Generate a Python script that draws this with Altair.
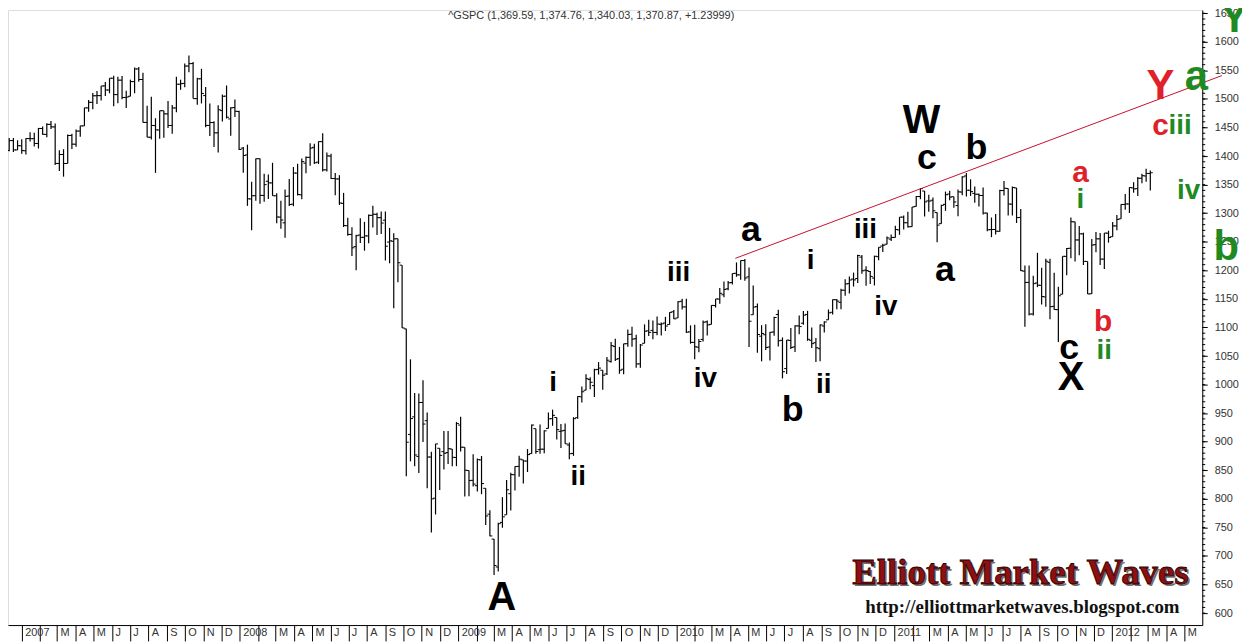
import altair as alt
import pandas as pd

# ---------------- weekly OHLC of ^GSPC (weeks starting Monday) ----------------
first_week = "2006-12-11"

opens = [
    # 2006 Dec
    1409.8, 1427.1, 1410.8,
    # 2007
    1418.0, 1409.3, 1430.7, 1430.5, 1422.0, 1448.3, 1438.0, 1455.5, 1451.0, 1387.1,
    1402.8, 1387.0, 1436.1, 1420.8, 1443.8, 1452.8, 1484.4, 1494.1, 1505.6, 1505.8,
    1522.8, 1515.6, 1536.3, 1507.6, 1532.9, 1502.6, 1504.7, 1530.4, 1552.5, 1534.1,
    1458.9, 1433.0, 1453.4, 1445.6, 1479.4, 1473.9, 1453.5, 1484.2, 1525.8, 1527.3,
    1557.6, 1562.0, 1500.6, 1535.3, 1505.9, 1453.7, 1458.7, 1440.7, 1479.6, 1505.0,
    1465.0, 1485.0,
    # 2008
    1478.1, 1414.0, 1402.0, 1325.0, 1330.7, 1395.4, 1331.1, 1355.9, 1353.1, 1330.5,
    1293.2, 1283.2, 1330.0, 1315.9, 1370.2, 1332.2, 1387.7, 1397.8, 1415.3, 1389.4,
    1425.3, 1376.0, 1400.0, 1360.8, 1360.0, 1317.2, 1278.1, 1262.9, 1241.6, 1261.8,
    1257.8, 1260.3, 1296.3, 1298.1, 1292.2, 1287.8, 1249.5, 1250.9, 1255.4, 1209.1,
    1097.6, 912.8, 943.5, 874.3, 968.7, 936.8, 873.2, 801.2, 888.6, 882.7,
    881.1, 887.2,
    # 2009
    872.4, 929.2, 890.4, 849.6, 832.5, 823.1, 868.2, 818.5, 773.3, 729.6,
    680.8, 758.8, 772.0, 809.1, 842.3, 856.9, 868.3, 866.2, 879.2, 922.9,
    886.1, 887.0, 923.3, 940.4, 942.5, 918.1, 919.9, 894.3, 879.6, 942.1,
    978.6, 990.2, 1008.9, 998.2, 1026.6, 1025.2, 1018.7, 1040.2, 1066.6, 1045.4,
    1026.9, 1071.6, 1088.2, 1080.4, 1036.2, 1072.3, 1094.1, 1094.9, 1091.1, 1105.5,
    1107.8, 1105.3, 1127.5,
    # 2010
    1116.6, 1145.9, 1136.0, 1092.4, 1073.9, 1065.5, 1079.1, 1110.0, 1105.4, 1138.4,
    1149.7, 1157.3, 1167.7, 1178.7, 1194.9, 1192.1, 1217.1, 1188.6, 1122.3, 1136.5,
    1084.8, 1087.3, 1065.8, 1092.1, 1122.8, 1077.5, 1028.1, 1077.2, 1066.0, 1102.9,
    1107.5, 1122.8, 1077.5, 1073.4, 1062.9, 1102.6, 1113.4, 1126.6, 1148.6, 1144.0,
    1165.3, 1176.8, 1184.7, 1185.7, 1223.2, 1200.4, 1198.1, 1186.6, 1223.9, 1242.5,
    1245.8, 1254.7,
    # 2011
    1257.6, 1270.8, 1293.2, 1283.3, 1276.5, 1311.9, 1329.2, 1338.9, 1321.6, 1322.7,
    1301.2, 1281.7, 1315.5, 1333.6, 1329.0, 1313.4, 1337.1, 1365.2, 1340.2, 1334.8,
    1333.1, 1331.1, 1300.3, 1271.3, 1271.5, 1268.4, 1339.6, 1343.3, 1315.9, 1344.3,
    1292.6, 1198.5, 1178.9, 1123.6, 1177.9, 1173.8, 1153.5, 1214.0, 1136.9, 1131.2,
    1158.2, 1224.5, 1238.7, 1284.9, 1253.2, 1263.9, 1215.6, 1159.0, 1245.0, 1255.1,
    1219.7, 1265.0,
    # 2012
    1258.9, 1277.8, 1290.2, 1315.3, 1316.2, 1344.3, 1343.1, 1361.2, 1365.2, 1369.6,
]

highs = [
    1431.6, 1431.8, 1427.7,
    1429.4, 1431.2, 1441.6, 1440.7, 1449.3, 1452.0, 1457.6, 1461.6, 1456.9, 1410.4,
    1412.0, 1437.7, 1438.9, 1446.6, 1453.1, 1484.7, 1498.0, 1510.3, 1513.8, 1522.8,
    1529.9, 1536.3, 1540.6, 1538.7, 1540.0, 1514.3, 1533.8, 1555.1, 1555.9, 1545.9,
    1488.3, 1503.9, 1466.3, 1479.5, 1479.4, 1496.4, 1489.6, 1538.7, 1533.7, 1561.9,
    1576.1, 1564.7, 1537.0, 1552.8, 1520.8, 1492.1, 1460.9, 1488.9, 1508.0, 1523.6,
    1485.4, 1498.9,
    1479.4, 1416.0, 1420.0, 1355.2, 1396.0, 1396.0, 1369.0, 1367.9, 1388.3, 1335.1,
    1321.7, 1341.5, 1359.7, 1380.9, 1386.7, 1395.9, 1399.1, 1422.7, 1421.6, 1425.6,
    1440.2, 1406.3, 1404.1, 1370.6, 1366.6, 1335.6, 1292.2, 1275.4, 1262.3, 1291.2,
    1284.9, 1297.9, 1313.2, 1300.8, 1303.0, 1303.0, 1274.4, 1265.1, 1255.5, 1209.1,
    1097.6, 1044.3, 985.4, 984.4, 1007.5, 951.4, 882.3, 896.3, 888.6, 918.6,
    918.9, 887.4,
    934.7, 943.9, 890.4, 849.6, 877.9, 870.8, 875.0, 818.5, 780.1, 729.6,
    758.3, 803.0, 832.9, 845.6, 856.6, 875.6, 868.3, 887.2, 930.2, 922.9,
    930.2, 920.0, 951.0, 956.2, 942.5, 931.0, 931.9, 898.7, 943.0, 979.8,
    996.7, 1018.0, 1013.1, 1027.6, 1039.5, 1025.2, 1048.2, 1074.8, 1080.2, 1066.0,
    1071.5, 1096.6, 1101.4, 1087.4, 1071.3, 1105.4, 1113.7, 1112.4, 1119.1, 1108.6,
    1118.7, 1126.5, 1130.4,
    1145.9, 1150.4, 1150.5, 1103.7, 1104.7, 1080.0, 1112.4, 1112.3, 1139.0, 1150.0,
    1169.3, 1180.7, 1181.4, 1194.7, 1213.9, 1217.3, 1219.8, 1205.1, 1173.6, 1141.9,
    1104.0, 1105.7, 1092.2, 1119.0, 1131.2, 1082.6, 1078.2, 1099.1, 1103.7, 1120.9,
    1128.8, 1129.2, 1100.1, 1081.6, 1105.1, 1110.9, 1131.5, 1148.9, 1149.9, 1167.7,
    1184.4, 1189.4, 1196.1, 1227.1, 1226.8, 1207.4, 1198.9, 1225.6, 1240.4, 1246.7,
    1259.4, 1262.6,
    1278.2, 1293.2, 1296.1, 1302.7, 1311.0, 1330.3, 1344.1, 1338.9, 1332.3, 1327.7,
    1301.2, 1314.8, 1337.9, 1339.5, 1329.0, 1341.5, 1364.6, 1370.6, 1359.4, 1346.8,
    1334.6, 1345.2, 1300.7, 1292.5, 1298.6, 1341.0, 1356.5, 1343.3, 1347.0, 1344.3,
    1307.4, 1208.5, 1208.5, 1190.7, 1230.7, 1204.4, 1220.4, 1220.4, 1195.9, 1171.4,
    1224.6, 1239.0, 1292.7, 1284.9, 1277.6, 1266.0, 1215.6, 1255.0, 1267.1, 1265.4,
    1265.4, 1269.4,
    1284.6, 1296.8, 1315.5, 1333.5, 1345.3, 1354.3, 1363.4, 1368.9, 1378.0, 1374.8,
]

lows = [
    1408.6, 1407.0, 1410.5,
    1403.9, 1403.0, 1425.4, 1416.8, 1413.3, 1437.4, 1433.0, 1447.5, 1384.2, 1373.8,
    1364.0, 1386.9, 1412.6, 1416.4, 1433.9, 1452.8, 1477.8, 1482.2, 1491.4, 1497.1,
    1505.2, 1510.0, 1487.4, 1492.7, 1499.7, 1484.2, 1504.7, 1510.0, 1530.0, 1458.6,
    1433.0, 1429.0, 1370.6, 1430.5, 1432.0, 1449.1, 1439.3, 1476.6, 1516.0, 1520.5,
    1546.7, 1500.6, 1490.0, 1492.2, 1450.3, 1435.2, 1416.0, 1406.1, 1460.7, 1465.8,
    1435.7, 1468.6,
    1410.6, 1370.7, 1312.9, 1270.1, 1322.0, 1316.8, 1320.3, 1324.8, 1330.6, 1282.4,
    1272.7, 1257.0, 1312.8, 1312.3, 1331.0, 1324.4, 1369.9, 1383.1, 1386.0, 1386.2,
    1373.1, 1373.1, 1359.9, 1331.3, 1314.5, 1275.8, 1260.7, 1225.3, 1200.4, 1248.0,
    1234.4, 1247.4, 1274.9, 1261.9, 1263.8, 1217.2, 1212.4, 1133.5, 1179.0, 1099.0,
    839.8, 865.8, 857.0, 845.3, 899.7, 818.7, 741.0, 772.7, 815.7, 851.4,
    861.0, 857.1,
    857.3, 883.0, 804.3, 804.5, 821.7, 812.8, 808.1, 754.3, 734.5, 666.8,
    672.9, 749.5, 772.0, 779.8, 814.5, 838.7, 826.8, 847.1, 879.2, 878.9,
    878.9, 880.0, 923.3, 927.9, 903.8, 888.9, 896.4, 869.3, 875.3, 940.2,
    968.7, 990.2, 991.9, 978.5, 1017.6, 991.0, 1017.0, 1038.5, 1041.2, 1019.0,
    1018.0, 1066.1, 1066.2, 1029.4, 1029.4, 1072.3, 1085.3, 1079.3, 1086.2, 1085.9,
    1093.9, 1105.3, 1114.8,
    1116.6, 1131.4, 1090.2, 1071.6, 1044.5, 1056.5, 1075.5, 1086.0, 1105.4, 1134.9,
    1141.7, 1152.9, 1165.0, 1175.1, 1188.8, 1183.7, 1181.6, 1065.8, 1122.3, 1055.9,
    1040.8, 1060.5, 1042.2, 1085.7, 1066.8, 1010.9, 1018.4, 1062.4, 1056.9, 1088.0,
    1105.0, 1076.6, 1063.9, 1039.7, 1040.9, 1091.2, 1113.4, 1122.8, 1131.9, 1131.9,
    1155.7, 1159.7, 1171.7, 1177.7, 1194.1, 1173.0, 1176.0, 1173.6, 1217.8, 1232.0,
    1245.2, 1251.5,
    1257.6, 1262.2, 1271.3, 1275.1, 1276.5, 1311.7, 1324.6, 1294.3, 1302.6, 1291.0,
    1249.0, 1281.7, 1304.2, 1322.9, 1309.6, 1294.7, 1331.5, 1329.2, 1330.3, 1318.5,
    1311.8, 1297.9, 1268.4, 1258.1, 1262.7, 1267.5, 1330.9, 1295.9, 1295.9, 1282.9,
    1199.0, 1101.5, 1121.1, 1121.1, 1170.6, 1140.1, 1136.1, 1114.2, 1131.1, 1074.8,
    1158.2, 1191.5, 1221.1, 1215.4, 1226.6, 1209.4, 1158.7, 1158.7, 1231.5, 1209.5,
    1202.4, 1248.6,
    1258.9, 1270.0, 1290.2, 1306.1, 1300.5, 1335.9, 1330.0, 1352.3, 1354.9, 1340.0,
]

closes = [
    1427.1, 1410.8, 1418.3,
    1409.7, 1430.7, 1430.5, 1422.2, 1448.4, 1438.1, 1455.5, 1451.2, 1387.2, 1402.8,
    1387.0, 1436.1, 1420.9, 1443.8, 1452.9, 1484.4, 1494.1, 1505.6, 1505.9, 1522.8,
    1515.7, 1536.3, 1507.7, 1532.9, 1502.6, 1503.4, 1530.4, 1552.5, 1534.1, 1459.0,
    1433.1, 1453.6, 1445.9, 1479.4, 1474.0, 1453.6, 1484.3, 1525.8, 1526.8, 1557.6,
    1561.8, 1500.6, 1535.3, 1509.7, 1453.7, 1458.7, 1440.7, 1481.1, 1504.7, 1468.0,
    1484.5, 1478.5,
    1411.6, 1401.0, 1325.2, 1330.6, 1395.4, 1331.3, 1350.0, 1353.1, 1330.6, 1293.4,
    1288.1, 1329.5, 1315.2, 1370.4, 1332.8, 1390.3, 1397.8, 1413.9, 1388.3, 1425.4,
    1375.9, 1400.4, 1360.7, 1360.0, 1317.9, 1278.4, 1262.9, 1239.5, 1260.7, 1257.8,
    1260.3, 1296.3, 1298.2, 1292.2, 1282.8, 1242.3, 1251.7, 1255.1, 1213.3, 1099.2,
    899.2, 940.6, 876.8, 968.8, 931.0, 873.3, 800.0, 896.2, 876.1, 879.7,
    887.9, 872.8,
    931.8, 890.4, 850.1, 832.0, 825.9, 868.6, 826.8, 770.1, 735.1, 683.4,
    756.6, 768.5, 815.9, 842.5, 856.6, 869.6, 866.2, 877.5, 929.2, 882.9,
    887.0, 919.1, 940.1, 946.2, 921.2, 918.9, 896.4, 879.1, 940.4, 979.3,
    987.5, 1010.5, 1004.1, 1026.1, 1028.9, 1016.4, 1042.7, 1068.3, 1044.4, 1025.2,
    1071.5, 1087.7, 1079.6, 1036.2, 1069.3, 1093.5, 1091.4, 1091.5, 1106.0, 1106.4,
    1102.5, 1126.5, 1115.1,
    1145.0, 1136.0, 1091.8, 1073.9, 1066.2, 1075.5, 1109.2, 1104.5, 1138.7, 1150.0,
    1159.9, 1166.6, 1178.1, 1194.4, 1192.1, 1217.3, 1186.7, 1110.9, 1135.7, 1087.7,
    1089.4, 1064.9, 1091.6, 1117.5, 1076.8, 1022.6, 1078.0, 1064.9, 1102.7, 1101.6,
    1121.6, 1079.3, 1071.7, 1064.6, 1104.5, 1109.6, 1125.6, 1148.7, 1146.2, 1165.2,
    1176.2, 1183.1, 1183.3, 1225.9, 1199.2, 1199.7, 1189.4, 1224.7, 1240.4, 1243.9,
    1256.8, 1257.6,
    1271.5, 1293.2, 1283.4, 1276.3, 1310.9, 1329.2, 1343.0, 1319.9, 1321.2, 1304.3,
    1279.2, 1313.8, 1332.4, 1328.2, 1319.7, 1337.4, 1363.6, 1340.2, 1337.8, 1333.3,
    1331.1, 1300.2, 1271.0, 1271.5, 1268.5, 1339.7, 1343.8, 1316.1, 1345.0, 1292.3,
    1199.4, 1178.8, 1123.5, 1176.8, 1174.0, 1154.2, 1216.0, 1136.4, 1131.4, 1155.5,
    1224.6, 1238.3, 1285.1, 1253.2, 1263.9, 1215.7, 1158.7, 1244.3, 1255.2, 1219.7,
    1265.3, 1257.6,
    1277.8, 1289.1, 1315.4, 1316.3, 1344.9, 1342.6, 1361.2, 1365.7, 1369.6, 1370.9,
]

# ---------------- Elliott wave labels ----------------
wave_text = ["A", "i", "ii", "iii", "iv", "a", "b", "i", "ii", "iii", "iv",
             "W", "c", "a", "b", "c", "X",
             "a", "i", "b", "ii",
             "Y", "c", "iii", "iv", "a", "b", "Y"]
wave_date = ["2009-03-15", "2009-06-09", "2009-07-21", "2010-01-05", "2010-02-19",
             "2010-05-06", "2010-07-15", "2010-08-14", "2010-09-05", "2010-11-14",
             "2010-12-18", "2011-02-16", "2011-02-25", "2011-03-27", "2011-05-19",
             "2011-10-21", "2011-10-24",
             "2011-11-09", "2011-11-09", "2011-12-17", "2011-12-19",
             "2012-03-22", "2012-03-22", "2012-04-24", "2012-05-08", "2012-05-21",
             "2012-07-10", "2012-07-24"]
wave_price = [626, 1002, 838, 1196, 1009, 1270, 956, 1217, 1000, 1271, 1136,
              1461, 1396, 1200, 1414, 1064, 1012,
              1370, 1323, 1110, 1059,
              1522, 1452, 1452, 1339, 1539, 1240, 1640]
wave_style = ["big", "minor", "minor", "minor", "minor", "mid", "mid", "minor", "minor", "minor", "minor",
              "big", "mid", "mid", "mid", "mid", "big",
              "red", "green", "red", "green",
              "redbig", "red", "green", "green", "greenbig", "greenbig", "greenbig"]

trend_dates = ["2010-04-10", "2012-07-03"]
trend_prices = [1221, 1541]

y_ticks = list(range(600, 1700, 50))
y_minor = list(range(600, 1660, 10))

# ---------------- build chart ----------------
weeks = pd.date_range(first_week, periods=len(closes), freq="7D").strftime("%Y-%m-%d")
bars = pd.DataFrame({"week": weeks, "open": opens, "high": highs, "low": lows, "close": closes})
labels = pd.DataFrame({"text": wave_text, "date": wave_date, "price": wave_price, "style": wave_style})
trend = pd.DataFrame({"date": trend_dates, "price": trend_prices})
minor = pd.DataFrame({"v": y_minor})

W, H = 1202, 619
xs = alt.Scale(type="utc", nice=False,
               domain=[alt.DateTime(year=2006, month=12, date=9, utc=True),
                       alt.DateTime(year=2012, month=5, date=31, utc=True)])
ys = alt.Scale(domain=[579.13, 1655.65], nice=False, zero=False)

label_expr = ("utcmonth(datum.value) == 0 ? utcFormat(datum.value, '%Y') : "
              "(utcmonth(datum.value) == 1 ? '' : slice(utcFormat(datum.value, '%b'), 0, 1))")
xaxis = alt.Axis(title=None, tickCount={"interval": "month", "step": 1}, labelExpr=label_expr,
                 tickSize=16, labelPadding=-14, labelAlign="left", labelBaseline="top",
                 labelOffset=3, labelFont="Liberation Sans", labelFontSize=11, labelColor="#333",
                 labelOverlap=False, labelFlush=False, labelBound=False, grid=False,
                 domainColor="black", tickColor="black")
yaxis = alt.Axis(title=None, orient="right", values=y_ticks, tickSize=5, labelPadding=7,
                 format="d", labelFont="Liberation Sans", labelFontSize=11, labelColor="#333",
                 labelOverlap=False, labelFlush=False, grid=False,
                 domainColor="black", tickColor="black")


def X(field):
    return alt.X(field, type="temporal", scale=xs, axis=xaxis)


def Y(field):
    return alt.Y(field, type="quantitative", scale=ys, axis=yaxis)


hl = alt.Chart(bars).mark_rule(color="black", strokeWidth=1.2).encode(
    x=X("week"), y=Y("low"), y2="high")
cl = alt.Chart(bars).mark_rule(color="black", strokeWidth=1, x2Offset=2.5).encode(
    x=X("week"), x2="week", y=Y("close"))
op = alt.Chart(bars).mark_rule(color="black", strokeWidth=1, xOffset=-2.5).encode(
    x=X("week"), x2="week", y=Y("open"))

minor_ticks = alt.Chart(minor).mark_rule(color="black", strokeWidth=1).encode(
    y=Y("v"), x=alt.value(W), x2=alt.value(W + 3))

trend_line = alt.Chart(trend).mark_line(color="#c8102e", strokeWidth=1).encode(
    x=X("date"), y=Y("price"))

styles = {
    "big": (40, "black"),
    "mid": (36, "black"),
    "minor": (28, "black"),
    "red": (30, "#e0202a"),
    "redbig": (42, "#e0202a"),
    "green": (28, "#1f8a1f"),
    "greenbig": (42, "#1f8a1f"),
}
text_layers = []
for name, (size, col) in styles.items():
    text_layers.append(
        alt.Chart(labels[labels["style"] == name]).mark_text(
            font="Liberation Sans", fontWeight="bold", fontSize=size, color=col,
            baseline="middle", align="center").encode(
            x=X("date"), y=Y("price"), text="text:N"))

title_txt = alt.Chart(pd.DataFrame({"t": ["^GSPC (1,369.59, 1,374.76, 1,340.03, 1,370.87, +1.23999)"]})).mark_text(
    font="Liberation Sans", fontSize=11, color="#333", baseline="top", align="center").encode(
    x=alt.value(587), y=alt.value(0), text="t:N")

wm = pd.DataFrame({"t": ["Elliott Market Waves"]})
wm_shadow = alt.Chart(wm).mark_text(
    font="Liberation Serif", fontWeight="bold", fontSize=37, color="#444", opacity=0.75,
    baseline="middle", align="center").encode(x=alt.value(1021), y=alt.value(569), text="t:N")
wm_main = alt.Chart(wm).mark_text(
    font="Liberation Serif", fontWeight="bold", fontSize=37, fill="#8e0f14",
    stroke="#2a0000", strokeWidth=0.8, baseline="middle", align="center").encode(
    x=alt.value(1019), y=alt.value(567), text="t:N")
url = alt.Chart(pd.DataFrame({"t": ["http://elliottmarketwaves.blogspot.com"]})).mark_text(
    font="Liberation Serif", fontWeight="bold", fontSize=19, color="#111",
    baseline="middle", align="center").encode(x=alt.value(1021), y=alt.value(601), text="t:N")

chart = alt.layer(
    hl, cl, op, minor_ticks, trend_line, *text_layers, title_txt, wm_shadow, wm_main, url
).properties(
    width=W, height=H,
    autosize=alt.AutoSizeParams(type="none"),
    padding={"left": 0, "top": 0, "right": 40, "bottom": 16},
).configure_view(stroke=None).configure(background="white")

chart.save("out.html", embed_options={"renderer": "svg", "actions": False})
